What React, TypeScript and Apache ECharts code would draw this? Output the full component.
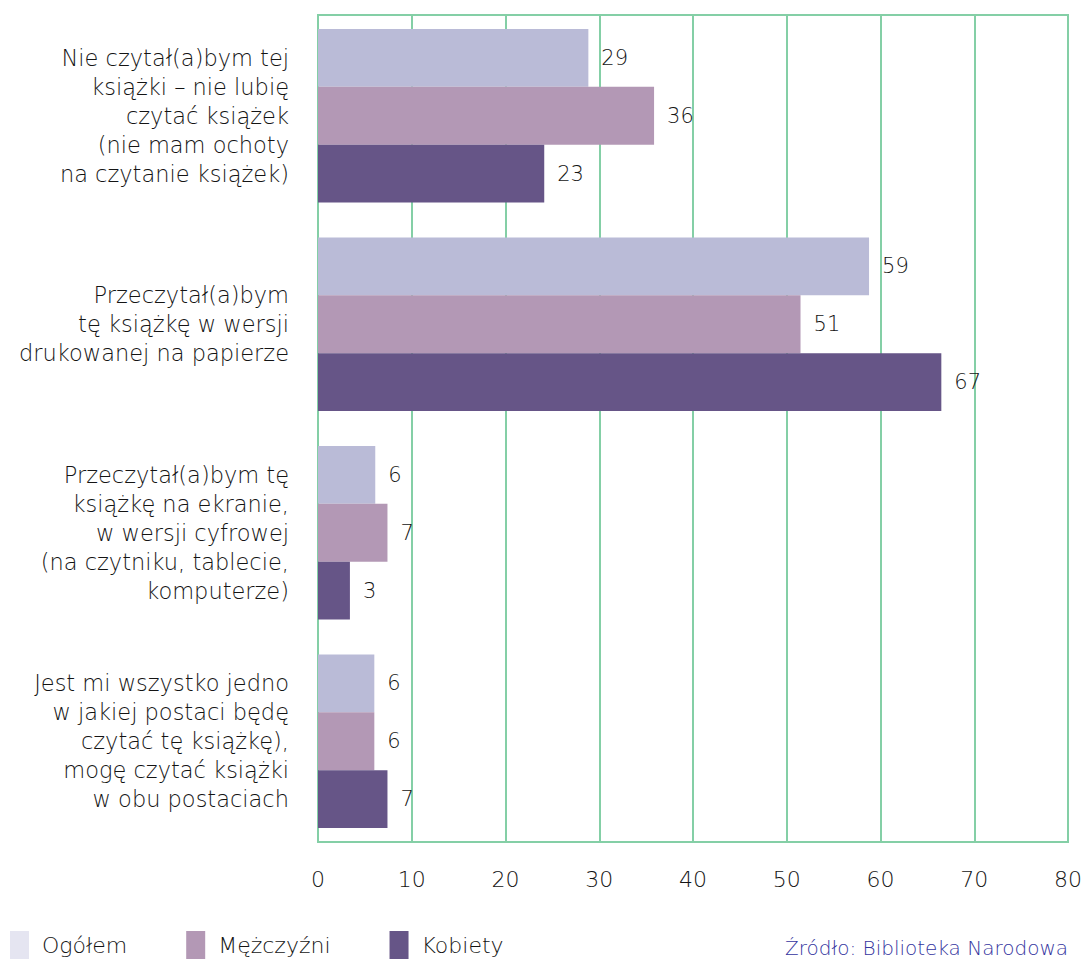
import React, { useEffect, useRef } from "react";
import * as echarts from "echarts";

const categories = [
  "Nie czytał(a)bym tej\nksiążki – nie lubię\nczytać książek\n(nie mam ochoty\nna czytanie książek)",
  "Przeczytał(a)bym\ntę książkę w wersji\ndrukowanej na papierze",
  "Przeczytał(a)bym tę\nksiążkę na ekranie,\nw wersji cyfrowej\n(na czytniku, tablecie,\nkomputerze)",
  "Jest mi wszystko jedno\nw jakiej postaci będę\nczytać tę książkę),\nmogę czytać książki\nw obu postaciach",
];
const seriesNames = ["Ogółem", "Mężczyźni", "Kobiety"];
const ogolem = [28.8, 58.7, 6.1, 6.0];
const mezczyzni = [35.8, 51.4, 7.4, 6.0];
const kobiety = [24.1, 66.4, 3.4, 7.4];
const ogolemLabels = [29, 59, 6, 6];
const mezczyzniLabels = [36, 51, 7, 6];
const kobietyLabels = [23, 67, 3, 7];
const xTicks = [0, 10, 20, 30, 40, 50, 60, 70, 80];
const sourceText = "Źródło: Biblioteka Narodowa";

const FONT = "'DejaVu Sans', 'Open Sans', sans-serif";
const W = 200;
const TEXT = "#141414";
const GREEN = "#84cfa6";

export default function App() {
  const ref = useRef<HTMLDivElement>(null);
  useEffect(() => {
    if (!ref.current) return;
    const chart = echarts.init(ref.current, undefined, { renderer: "svg" });
    const mk = (name: string, data: number[], labels: number[], color: string) => ({
      name,
      type: "bar",
      xAxisIndex: 1,
      yAxisIndex: 1,
      data,
      itemStyle: { color },
      barGap: "0%",
      barCategoryGap: "16.8%",
      label: {
        show: true,
        position: "right",
        distance: 13,
        color: TEXT,
        fontFamily: FONT,
        fontSize: 21,
        fontWeight: W,
        formatter: (p: any) => String(labels[p.dataIndex]),
      },
    });
    const xMin = xTicks[0];
    const xMax = xTicks[xTicks.length - 1];
    chart.setOption({
      animation: false,
      textStyle: { fontFamily: FONT },
      grid: [
        {
          left: 318,
          right: 16,
          top: 15,
          bottom: 120,
          show: true,
          borderColor: GREEN,
          borderWidth: 2,
        },
        {
          left: 318,
          right: 16,
          top: 11.5,
          bottom: 116.5,
          show: false,
        },
      ],
      legend: {
        left: 10,
        top: 931,
        padding: 0,
        itemWidth: 19,
        itemHeight: 28,
        itemGap: 59,
        icon: "rect",
        textStyle: {
          color: TEXT,
          fontSize: 22,
          fontWeight: W,
          fontFamily: FONT,
          padding: [0, 0, 0, 8],
        },
        data: [
          { name: seriesNames[0], itemStyle: { color: "#e5e5f1" } },
          { name: seriesNames[1] },
          { name: seriesNames[2] },
        ],
        selectedMode: false,
      },
      xAxis: [
        {
          type: "value",
          gridIndex: 0,
          min: xMin,
          max: xMax,
          interval: 10,
          axisLine: { show: false },
          axisTick: { show: false },
          splitLine: { show: true, lineStyle: { color: GREEN, width: 2 } },
          axisLabel: { color: TEXT, fontSize: 22, fontWeight: W, fontFamily: FONT, margin: 26 },
        },
        {
          type: "value",
          gridIndex: 1,
          min: xMin,
          max: xMax,
          interval: 10,
          show: false,
        },
      ],
      yAxis: [
        {
          type: "category",
          gridIndex: 0,
          data: categories,
          inverse: true,
          axisLine: { show: true, lineStyle: { color: GREEN, width: 2 } },
          axisTick: { show: false },
          axisLabel: { show: false },
        },
        {
          type: "category",
          gridIndex: 1,
          data: categories,
          inverse: true,
          axisLine: { show: false },
          axisTick: { show: false },
          axisLabel: {
            color: TEXT,
            fontSize: 22.5,
            fontWeight: W,
            fontFamily: FONT,
            lineHeight: 29,
            align: "right",
            margin: 29,
          },
        },
      ],
      graphic: [
        {
          type: "text",
          right: 17,
          top: 938,
          style: {
            text: sourceText,
            fill: "#3535a0",
            fontSize: 20,
            fontWeight: W,
            fontFamily: FONT,
          },
        },
      ],
      series: [
        mk(seriesNames[0], ogolem, ogolemLabels, "#babbd7"),
        mk(seriesNames[1], mezczyzni, mezczyzniLabels, "#b398b5"),
        mk(seriesNames[2], kobiety, kobietyLabels, "#665587"),
      ],
    });
    return () => chart.dispose();
  }, []);
  return (
    <div
      ref={ref}
      style={{ position: "absolute", left: 0, top: 0, width: 1085, height: 962 }}
    />
  );
}
